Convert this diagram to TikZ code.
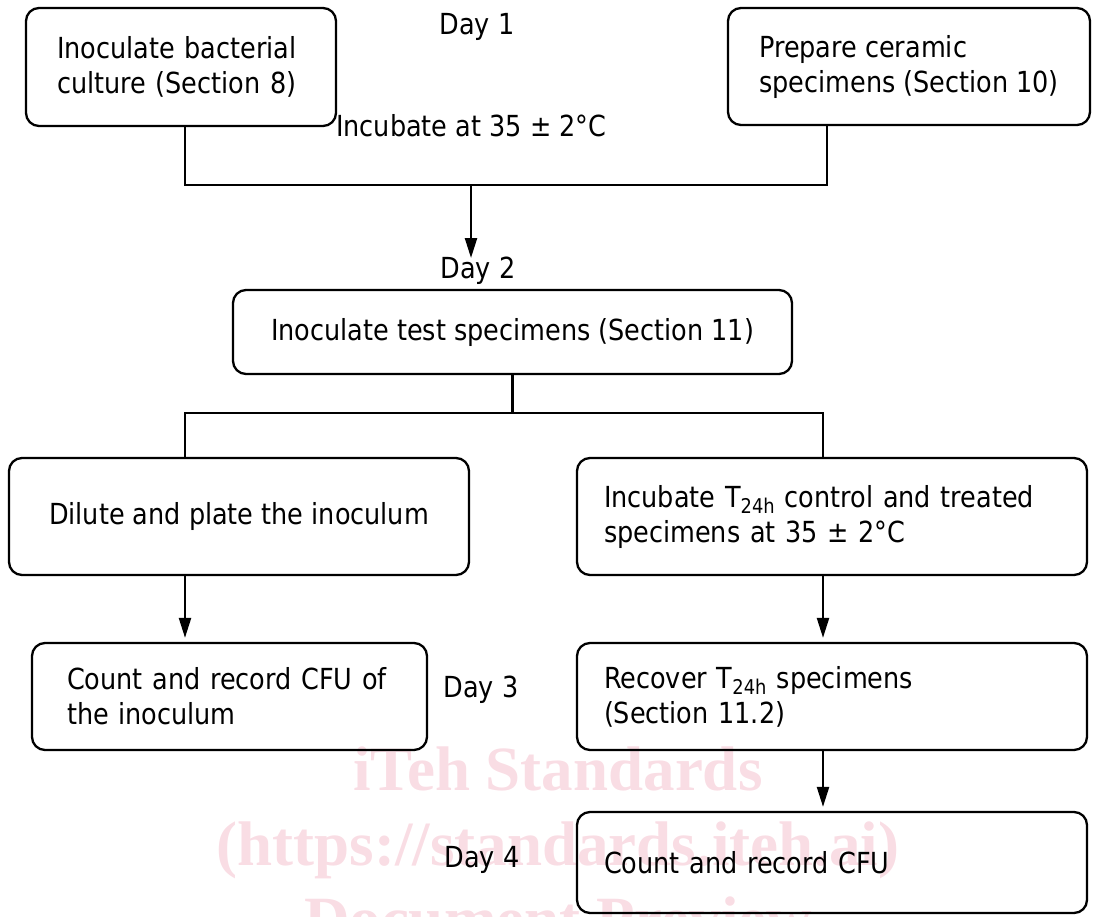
\documentclass[tikz,border=0pt]{standalone}
\usepackage{fontspec}
\usetikzlibrary{arrows.meta,positioning}

\newfontfamily\flowfont{DejaVu Sans}[FakeStretch=0.88]
\newfontfamily\markfont{Liberation Serif}
\definecolor{markpink}{RGB}{249,221,228}

\tikzset{
	stepbox/.style={draw, line width=2.3pt, rounded corners=13pt, align=left, inner xsep=0pt, inner ysep=0pt},
	flowline/.style={line width=2.3pt},
	flowarrow/.style={line width=2.3pt, -{Triangle[length=20pt,width=12pt]}},
	daylabel/.style={anchor=base, inner sep=0pt},
	watermark/.style={text=markpink, font=\markfont\bfseries\fontsize{63}{63}\selectfont, anchor=base, inner sep=0pt}
}

\begin{document}
\begin{tikzpicture}[x=1pt, y=-1pt, font=\flowfont\fontsize{29}{35}\selectfont]
	% frame setup
	
	\def\xmax{1097}
	\def\ymax{916}
	\def\colL{185}
	\def\colR{823}
	
	\clip (0,0) rectangle (\xmax,\ymax);
	\useasboundingbox (0,0) rectangle (\xmax,\ymax);
	
	% watermark
	\node[watermark] (wm1) at (558,790) {iTeh Standards};
	\node[watermark] (wm2) at (558,865) {(https://standards.iteh.ai)};
	\node[watermark] (wm3) at (558,940) {Document Preview};
	
	% day 1
	\node[daylabel] (day1) at (477,34) {Day 1};
	\node[stepbox, minimum width=310pt, minimum height=118pt, text width=248pt] (culture) at (181,67) {Inoculate bacterial\\culture (Section 8)};
	\node[stepbox, minimum width=362pt, minimum height=117pt] (ceramic) at (909,66.5) {Prepare ceramic\\specimens (Section 10)};
	\node[anchor=base west, inner sep=0pt] (incubtemp) at (336,136) {Incubate at 35 ± 2°C};
	
	\coordinate (culturedrop) at (\colL,185);
	\coordinate (join) at (471,185);
	\coordinate (ceramicdrop) at (827,185);
	\coordinate (arrowend) at (471,258);
	\draw[flowline] (culturedrop |- culture.south) -- (culturedrop) -- (ceramicdrop) -- (ceramicdrop |- ceramic.south);
	\draw[flowarrow] (join) -- (arrowend);
	
	% day 2
	\node[daylabel] (day2) at (478,278) {Day 2};
	\node[stepbox, minimum width=559pt, minimum height=84pt] (inoculate) at (512.5,332) {Inoculate test specimens (Section 11)};
	
	\node[stepbox, minimum width=460pt, minimum height=117pt] (dilute) at (239,516.5) {Dilute and plate the inoculum};
	\node[stepbox, minimum width=510pt, minimum height=117pt, text width=456pt] (incubate) at (832,516.5) {Incubate T\textsubscript{24h} control and treated\\specimens at 35 ± 2°C};
	
	\coordinate (fork) at (inoculate.south |- 0,413);
	\coordinate (forkL) at (\colL,413);
	\coordinate (forkR) at (\colR,413);
	\draw[flowline] (inoculate.south) -- (fork);
	\draw[flowline] (forkL |- dilute.north) -- (forkL) -- (forkR) -- (forkR |- incubate.north);
	
	% day 3
	\node[stepbox, minimum width=395pt, minimum height=107pt, text width=325pt] (countinoc) at (229.5,696.5) {Count and record CFU of\\the inoculum};
	\node[daylabel] (day3) at (481,697) {Day 3};
	\node[stepbox, minimum width=510pt, minimum height=107pt, text width=456pt] (recover) at (832,696.5) {Recover T\textsubscript{24h} specimens\\(Section 11.2)};
	
	\draw[flowarrow, shorten >=4pt] (forkL |- dilute.south) -- (forkL |- countinoc.north);
	\draw[flowarrow, shorten >=4pt] (forkR |- incubate.south) -- (forkR |- recover.north);
	
	% day 4
	\node[daylabel] (day4) at (482,867) {Day 4};
	\node[stepbox, minimum width=510pt, minimum height=101pt, text width=456pt] (countcfu) at (832,862.5) {Count and record CFU};
	
	\draw[flowarrow, shorten >=4pt] (forkR |- recover.south) -- (forkR |- countcfu.north);
\end{tikzpicture}
\end{document}
